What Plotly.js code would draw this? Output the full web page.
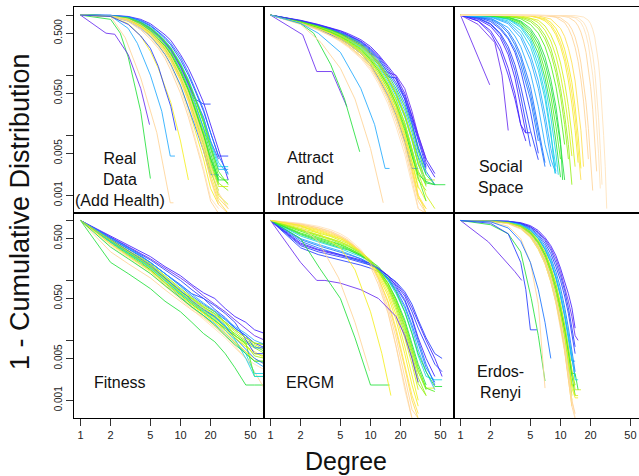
<!DOCTYPE html>
<html>
<head>
<meta charset="utf-8">
<script src="https://cdn.plot.ly/plotly-3.0.1.min.js"></script>
<style>
html,body{margin:0;padding:0;overflow:hidden;background:#fff;}
#chart{width:644px;height:476px;}
</style>
</head>
<body>
<div id="chart"></div>
<script>
// ---------------- DATA (degree, 1 - CDF) ----------------
// Panel 1: Real Data (Add Health)
const realDeg = [1, 2, 3, 4, 5, 6, 7, 8, 10, 12, 14, 17, 20, 24, 30];
const realVals = [
  [1, .99, .95, .85, .72, .58, .47, .38, .22, .13, .075, .035, .015, .006, .0018],
  [1, .99, .93, .8, .66, .52, .41, .32, .18, .1, .055, .025, .011, .0045, .0045],
  [1, .98, .9, .74, .58, .45, .34, .26, .14, .075, .04, .033, .033],
  [1, .98, .9, .75, .6, .46, .35, .26, .14, .07, .035, .013, .005, .0018, .0018],
  [1, .97, .87, .7, .54, .4, .3, .22, .11, .055, .026, .01, .0035, .0015],
  [1, .97, .85, .66, .5, .37, .27, .19, .09, .042, .019, .007, .0025, .0012],
  [1, .98, .88, .72, .57, .44, .33, .25, .13, .065, .032, .013, .006, .0027, .0027],
  [1, .96, .82, .62, .45, .32, .22, .15, .065, .028, .012, .004, .0013, .0007],
  [1, .95, .78, .57, .4, .28, .19, .12, .05, .02, .008, .0025, .0008, .0005],
  [1, .96, .83, .64, .48, .35, .25, .18, .085, .038, .016, .0055, .0018, .0007, .0005],
  [1, .97, .86, .69, .53, .4, .3, .22, .11, .056, .028, .011, .0042, .0019],
  [1, .96, .8, .6, .44, .31, .22, .15, .068, .03, .014, .0055, .0022, .0022],
  [1, .97, .86, .68, .52, .39, .29, .21, .1, .05, .024, .009, .0032, .0014, .0014],
  [1, .96, .84, .65, .49, .36, .26, .18, .085, .04, .018, .0065, .0022, .0009, .0006],
  [1, .98, .89, .73, .58, .45, .35, .27, .15, .08, .042, .018, .0075, .003, .003],
  [1, .96, .8, .6, .43, .3, .21, .14, .06, .024, .009, .0028, .0009, .0006],
  [1, .98, .91, .77, .62, .48, .37, .28, .15, .08, .04, .016, .006, .0021, .0016],
  [1, .98, .91, .76, .6, .46, .35, .27, .14, .07, .04, .02, .008, .004],
  [1, .98, .89, .72, .56, .43, .32, .24, .12, .06, .029, .011, .004, .0016, .0012],
  [1, .97, .88, .7, .55, .41, .31, .23, .12, .058, .027, .01, .004, .0017],
  [1, .99, .92, .78, .63, .49, .38, .29, .16, .085, .044, .019, .008, .0035, .0022],
  [1, .97, .85, .67, .51, .38, .28, .2, .095, .045, .021, .008, .0028, .001, .0007],
  [1, .96, .82, .63, .47, .34, .24, .17, .08, .036, .016, .0055, .0019, .0008, .0005],
  [1, .98, .9, .75, .6, .47, .36, .28, .15, .08, .041, .017, .0068, .0025, .0015],
  [1, .99, .94, .82, .68, .54, .43, .34, .2, .11, .06, .027, .011, .0045, .0023],
  [1, .97, .86, .69, .53, .39, .29, .21, .1, .048, .022, .0085, .003, .0011, .0006]
];
const realColors = [1, 2, 2, 6, 7, 8, 4, 10, 12, 12, 6, 3, 9, 11, 5, 13, 7, 0, 8, 6, 5, 9, 11, 7, 3, 12];
const realExtraDeg = [
  [1, 2, 2.5, 3, 4, 5],
  [1, 1.8, 2.2, 3, 4, 4.9],
  [1, 2, 2.8, 4, 5.8, 7.9, 8.5],
  [1, 2, 3, 3.7, 5, 6.5, 7.9, 8.8],
  [1, 2, 3, 4, 5, 6, 8, 10, 12],
  [1, 2, 3, 4, 5, 6, 7, 8, 9]
];
const realExtraVals = [
  [1, .85, .5, .2, .025, .0019],
  [1, .5, .48, .22, .06, .015],
  [1, .95, .42, .09, .011, .00075, .00075],
  [1, .97, .6, .34, .1, .025, .0045, .0045],
  [1, .95, .72, .45, .25, .13, .035, .008, .0018],
  [1, .95, .7, .45, .28, .14, .06, .03, .012]
];
const realExtraColors = [6, 0, 12, 4, 10, 2];

// Panel 2: Attract and Introduce
const attrDeg = [1, 2, 3, 4, 5, 6, 8, 10, 12, 15, 18, 22, 26, 30, 36, 44, 56];
const attrVals = [
  [1, .82, .7, .62, .55, .49, .39, .3, .22, .14, .095, .05, .022, .01, .004, .0023],
  [1, .8, .68, .6, .52, .46, .36, .27, .2, .12, .075, .04, .018, .008, .003],
  [1, .8, .67, .58, .5, .44, .34, .25, .18, .11, .1, .06, .025, .01, .004],
  [1, .78, .65, .55, .47, .4, .3, .21, .15, .085, .05, .022, .009, .004, .0016, .0015],
  [1, .77, .63, .53, .45, .38, .28, .19, .13, .07, .04, .016, .006, .0025, .0015],
  [1, .76, .62, .52, .43, .36, .26, .18, .12, .064, .033, .013, .0045, .0018, .0012],
  [1, .75, .6, .5, .41, .34, .24, .16, .1, .052, .026, .01, .0035, .0013],
  [1, .74, .58, .47, .38, .31, .21, .14, .085, .042, .02, .0075, .0025, .0009, .0006],
  [1, .73, .57, .46, .37, .3, .2, .13, .08, .038, .017, .006, .0018, .0006, .0005],
  [1, .75, .6, .49, .4, .33, .23, .15, .095, .05, .025, .009, .003, .001, .0006],
  [1, .78, .65, .56, .48, .41, .31, .22, .16, .09, .055, .026, .011, .0045, .0022],
  [1, .77, .64, .54, .46, .39, .29, .2, .14, .078, .045, .02, .008, .0032, .0018],
  [1, .79, .66, .57, .49, .42, .32, .23, .16, .094, .09, .04, .016, .006, .0028],
  [1, .76, .62, .51, .42, .35, .25, .17, .11, .058, .03, .012, .0045, .0022, .0017, .0015, .0015],
  [1, .72, .56, .45, .36, .29, .19, .12, .072, .033, .014, .0048, .0015, .0006],
  [1, .74, .59, .48, .4, .33, .23, .15, .09, .045, .022, .008, .0028, .0028],
  [1, .77, .64, .55, .47, .4, .31, .22, .16, .09, .05, .022, .009, .0035, .0018, .0018],
  [1, .76, .61, .51, .42, .35, .25, .17, .11, .06, .03, .011, .0037, .0014, .0008],
  [1, .78, .65, .56, .48, .41, .31, .22, .15, .085, .048, .021, .0085, .0034, .0014],
  [1, .77, .63, .53, .45, .38, .28, .2, .13, .072, .038, .016, .006, .0024, .001, .0006],
  [1, .8, .68, .59, .51, .45, .35, .26, .19, .11, .068, .034, .015, .0065, .0025, .0015],
  [1, .76, .62, .52, .44, .37, .27, .18, .12, .066, .034, .014, .0052, .002, .0008],
  [1, .74, .59, .49, .4, .33, .23, .15, .095, .048, .023, .0085, .0028, .001, .0005],
  [1, .79, .66, .57, .49, .43, .33, .24, .17, .1, .06, .03, .013, .0055, .0022, .0015],
  [1, .73, .57, .46, .38, .31, .21, .14, .085, .043, .02, .0072, .0023, .0008, .0005],
  [1, .81, .69, .61, .54, .47, .37, .28, .21, .13, .085, .045, .02, .009, .0035, .002]
];
const attrColors = [1, 2, 0, 6, 7, 8, 9, 10, 12, 11, 4, 5, 2, 6, 13, 3, 9, 10, 8, 9, 3, 7, 11, 6, 12, 1];
const attrExtraDeg = [
  [1, 2.1, 2.9, 4.1, 5.8],
  [1, 2, 2.7, 4, 5.5, 7.8],
  [1, 2, 3.2, 5, 7, 10, 13.4],
  [1, 2, 3, 5, 8, 11, 14, 15.5]
];
const attrExtraVals = [
  [1, .47, .115, .115, .03],
  [1, .72, .5, .15, .04, .0053],
  [1, .7, .35, .13, .04, .006, .00075],
  [1, .73, .5, .24, .06, .015, .0028, .0028]
];
const attrExtraColors = [0, 6, 12, 4];

// Panel 3: Social Space
const socialDeg = [
  [1, 1.96],
  [1, 1.5, 2.2, 2.6, 3],
  [1, 1.5, 2, 2.5, 3, 3.5, 4, 4.5],
  [1, 1.5, 2, 2.5, 3, 3.5, 4, 4.5, 5],
  [1, 1.5, 2, 2.5, 3, 3.5, 4, 4.5],
  [1, 1.5, 2, 2.5, 3, 3.5, 4, 4.5, 5],
  [1, 1.5, 2, 2.5, 3, 3.5, 4, 5, 6],
  [1, 1.5, 2, 2.5, 3, 3.5, 4, 5, 6],
  [1, 1.5, 2, 2.5, 3, 3.5, 4, 5, 6],
  [1, 2, 2.5, 3, 3.5, 4, 5, 6, 7],
  [1, 2, 2.5, 3, 3.5, 4, 5, 6, 7],
  [1, 2, 3, 3.5, 4, 5, 6, 7, 8],
  [1, 2, 3, 4, 5, 6, 7, 8, 9],
  [1, 2, 3, 4, 5, 6, 7, 8, 9],
  [1, 2, 3, 4, 5, 6, 7, 8, 8.8],
  [1, 2, 3, 4, 5, 6, 7, 8, 9],
  [1, 2, 3, 4, 5, 6, 7, 8, 9, 9.5],
  [1, 2, 3, 4, 5, 6, 7, 8, 9, 10],
  [1, 2, 3, 4, 5, 6, 7, 8, 9, 10, 11],
  [1, 2, 3, 4, 5, 6, 7, 8, 9, 10],
  [1, 2, 3, 4, 5, 6, 7, 8, 9, 10, 10.5],
  [1, 2, 3, 4, 5, 6, 7, 8, 9, 10, 11],
  [1, 2, 4, 5, 6, 7, 8, 9, 10, 11, 12, 13],
  [1, 2, 4, 5, 6, 7, 8, 9, 10, 11, 12],
  [1, 2, 3, 5, 6, 7, 8, 9, 10, 11, 12, 13],
  [1, 2, 4, 6, 7, 8, 9, 10, 11, 12, 13, 14],
  [1, 3, 5, 6, 7, 8, 9, 10, 11, 12, 13, 14, 15],
  [1, 3, 5, 7, 8, 9, 10, 11, 12, 13, 14, 15, 16],
  [1, 3, 5, 7, 8, 9, 10, 11, 12, 13, 14, 15, 16],
  [1, 3, 6, 8, 10, 11, 12, 13, 14, 15, 16, 17],
  [1, 4, 7, 9, 11, 12, 13, 14, 15, 16, 17, 18, 19],
  [1, 4, 8, 10, 12, 13, 14, 15, 16, 17, 18, 19, 20, 21],
  [1, 5, 10, 12, 14, 15, 16, 17, 18, 19, 20, 21, 22, 23],
  [1, 5, 11, 14, 16, 17, 18, 19, 20, 21, 22, 23, 24, 25],
  [1, 6, 12, 15, 17, 18, 19, 20, 21, 22, 23, 24, 25, 26],
  [1, 8, 14, 17, 19, 20, 21, 22, 23, 24, 25, 26, 27, 28, 29]
];
const socialVals = [
  [1, .069],
  [1, .7, .35, .1, .012],
  [1, .8, .55, .3, .13, .05, .015, .008],
  [1, .85, .65, .42, .22, .09, .03, .011, .011],
  [1, .8, .5, .25, .1, .04, .015, .0108],
  [1, .88, .7, .47, .26, .12, .045, .015, .0065],
  [1, .9, .72, .5, .3, .15, .065, .012, .0039],
  [1, .92, .78, .58, .4, .24, .12, .025, .005],
  [1, .95, .82, .62, .42, .27, .15, .04, .008],
  [1, .85, .68, .5, .32, .19, .05, .01, .003],
  [1, .88, .72, .54, .36, .22, .065, .014, .0035],
  [1, .9, .62, .45, .3, .11, .03, .007, .003],
  [1, .93, .72, .42, .18, .06, .016, .004, .0023],
  [1, .94, .76, .48, .22, .08, .022, .006, .0025],
  [1, .96, .85, .62, .36, .15, .05, .012, .0023],
  [1, .95, .8, .55, .3, .12, .04, .011, .003],
  [1, .97, .86, .66, .4, .19, .07, .02, .005, .0022],
  [1, .97, .88, .7, .45, .23, .09, .03, .008, .002],
  [1, .98, .92, .77, .55, .33, .16, .065, .022, .007, .0018],
  [1, .98, .91, .74, .5, .28, .12, .045, .014, .004],
  [1, .99, .93, .8, .6, .38, .2, .085, .03, .008, .0018],
  [1, .99, .96, .87, .7, .5, .3, .15, .065, .023, .007],
  [1, 1, .93, .83, .66, .46, .28, .14, .06, .022, .007, .0015],
  [1, 1, .9, .78, .6, .4, .23, .11, .045, .015, .004],
  [1, 1, .98, .88, .75, .56, .37, .21, .1, .042, .015, .0045],
  [1, 1, .97, .82, .66, .47, .3, .16, .075, .03, .01, .003],
  [1, 1, .96, .9, .8, .65, .47, .3, .17, .08, .033, .012, .0035],
  [1, 1, .98, .87, .76, .6, .43, .27, .15, .075, .03, .01, .0028],
  [1, 1, .97, .84, .7, .52, .35, .21, .11, .05, .02, .0065, .0018],
  [1, 1, .97, .86, .6, .44, .28, .16, .08, .033, .012, .003],
  [1, 1, .98, .92, .75, .6, .44, .29, .17, .085, .037, .013, .004],
  [1, 1, .97, .9, .72, .58, .43, .28, .16, .08, .035, .013, .004, .0012],
  [1, 1, .97, .92, .78, .66, .52, .37, .24, .13, .065, .027, .009, .0025],
  [1, 1, .98, .9, .75, .62, .47, .32, .19, .1, .045, .017, .005, .0013],
  [1, 1, .97, .9, .76, .64, .5, .35, .22, .12, .055, .02, .006, .0015],
  [1, 1, .98, .93, .82, .72, .58, .43, .28, .16, .075, .03, .01, .003, .0006]
];
const socialColors = [0, 0, 1, 1, 1, 2, 2, 2, 3, 3, 3, 4, 4, 4, 5, 5, 5, 6, 6, 7, 6, 7, 8, 8, 9, 9, 10, 10, 11, 11, 12, 12, 12, 13, 13, 13];

// Panel 4: Fitness
const fitDeg = [1, 2, 3, 4, 5, 7, 10, 13, 17, 22, 28, 35, 45, 55, 70];
const fitVals = [
  [1, .55, .38, .3, .25, .17, .12, .085, .062, .05, .034, .025, .02, .015, .013],
  [1, .53, .36, .28, .23, .16, .11, .08, .055, .04, .03, .022, .016, .012, .01],
  [1, .5, .33, .25, .2, .13, .085, .06, .05, .033, .024, .016, .012, .009, .0075],
  [1, .2, .13, .095, .073, .045, .03, .02, .013, .0095, .006, .0035, .0018, .0018, .0018],
  [1, .3, .19, .14, .11, .07, .045, .032, .024, .017, .012, .008, .005, .003, .0015],
  [1, .47, .3, .22, .17, .105, .062, .045, .032, .024, .017, .013, .0095, .008, .0065],
  [1, .45, .28, .21, .16, .1, .06, .042, .03, .022, .016, .012, .009, .0075, .006],
  [1, .48, .31, .23, .175, .11, .066, .048, .035, .026, .019, .014, .01, .0085, .007],
  [1, .42, .26, .19, .15, .09, .052, .036, .026, .019, .013, .009, .006, .0045, .0035],
  [1, .44, .28, .2, .155, .095, .058, .04, .028, .02, .015, .011, .008, .0065, .005],
  [1, .5, .34, .26, .2, .13, .08, .055, .04, .03, .022, .016, .012, .0075, .0075],
  [1, .46, .29, .21, .165, .1, .06, .043, .03, .022, .015, .01, .006, .0028, .0028],
  [1, .4, .25, .18, .14, .085, .05, .035, .025, .018, .013, .009, .0065, .005, .004],
  [1, .45, .29, .22, .17, .11, .065, .05, .036, .028, .02, .015, .011, .009, .0085],
  [1, .52, .35, .27, .22, .15, .1, .07, .05, .038, .028, .02, .01, .006, .006],
  [1, .38, .24, .17, .13, .08, .048, .033, .023, .016, .011, .0075, .005, .004, .0032],
  [1, .43, .27, .2, .15, .092, .056, .04, .029, .021, .016, .012, .009, .0025, .0025],
  [1, .49, .32, .24, .185, .115, .07, .05, .036, .027, .02, .015, .011, .009, .0085],
  [1, .44, .28, .21, .16, .1, .06, .043, .032, .025, .018, .0105, .005, .0025, .0025],
  [1, .47, .31, .24, .19, .12, .075, .052, .038, .03, .02, .012, .0085, .0055, .005],
  [1, .41, .26, .19, .145, .09, .055, .038, .028, .02, .014, .0095, .0065, .0045, .0045],
  [1, .51, .34, .26, .2, .13, .082, .058, .042, .031, .023, .017, .013, .01, .0085],
  [1, .36, .23, .17, .13, .082, .05, .036, .026, .018, .012, .0085, .006, .0045, .0045],
  [1, .48, .31, .23, .18, .11, .068, .046, .033, .025, .017, .011, .007, .005, .004],
  [1, .46, .3, .22, .17, .105, .063, .044, .032, .023, .016, .011, .0078, .006, .0055]
];
const fitColors = [1, 0, 2, 6, 12, 7, 8, 9, 4, 10, 3, 5, 11, 6, 2, 13, 7, 9, 5, 8, 10, 4, 6, 3, 9];

// Panel 5: ERGM
const ergmDeg = [1, 2, 3, 4, 5, 6, 8, 10, 12, 15, 18, 22, 26, 30, 36, 44, 52];
const ergmVals = [
  [1, .4, .32, .28, .26, .24, .21, .19, .16, .12, .09, .06, .035, .02, .01, .005, .0025],
  [1, .35, .27, .24, .22, .2, .18, .16, .14, .11, .085, .055, .03, .016, .008, .004, .003],
  [1, .45, .35, .3, .27, .245, .21, .18, .15, .11, .075, .045, .022, .01, .004, .0018],
  [1, .5, .4, .35, .31, .28, .23, .19, .15, .1, .065, .035, .016, .007, .003, .0015],
  [1, .55, .44, .38, .34, .3, .25, .2, .16, .1, .06, .03, .013, .0055, .0025, .0022, .0022],
  [1, .6, .48, .42, .37, .33, .26, .2, .15, .09, .05, .022, .009, .004, .0018],
  [1, .65, .52, .45, .4, .35, .27, .2, .14, .08, .042, .017, .007, .003, .0015],
  [1, .7, .57, .5, .44, .38, .29, .21, .14, .075, .036, .013, .005, .0019, .0012],
  [1, .75, .62, .54, .47, .41, .3, .21, .14, .07, .032, .011, .004, .0015],
  [1, .8, .68, .58, .5, .43, .3, .2, .12, .055, .022, .006, .0018, .0008],
  [1, .85, .72, .62, .53, .45, .31, .2, .11, .045, .016, .004, .0012, .0006],
  [1, .88, .76, .66, .56, .47, .31, .19, .1, .035, .011, .0025, .0007, .0005],
  [1, .9, .8, .7, .6, .5, .33, .2, .1, .03, .008, .0015, .0005],
  [1, .87, .75, .64, .54, .45, .29, .17, .085, .028, .008, .0018, .0005],
  [1, .72, .58, .5, .44, .39, .3, .22, .16, .09, .045, .018, .007, .003, .0016, .0016],
  [1, .58, .46, .4, .36, .32, .26, .21, .17, .11, .065, .03, .013, .006, .003, .0017, .0017],
  [1, .38, .3, .27, .25, .23, .2, .18, .155, .12, .095, .065, .04, .022, .011, .006, .005],
  [1, .42, .33, .29, .27, .25, .22, .19, .16, .12, .08, .048, .024, .011, .005, .0025],
  [1, .62, .5, .44, .39, .34, .27, .2, .15, .088, .047, .02, .008, .0035, .0016, .0014],
  [1, .78, .65, .56, .49, .42, .3, .21, .13, .062, .027, .008, .0025, .001],
  [1, .68, .55, .48, .42, .37, .28, .21, .15, .08, .04, .015, .0058, .0024, .0012],
  [1, .48, .38, .33, .3, .27, .23, .19, .155, .105, .07, .038, .018, .0085, .0035, .002],
  [1, .83, .7, .6, .52, .44, .3, .19, .11, .042, .014, .0035, .001, .0005]
];
const ergmColors = [1, 2, 3, 4, 5, 6, 7, 8, 9, 10, 11, 12, 13, 12, 9, 6, 2, 1, 7, 10, 8, 3, 11];
const ergmExtraDeg = [
  [1, 2, 2.9, 3.5, 5, 8, 12, 18, 22, 26, 30],
  [1, 2, 3.1, 5, 7, 10, 15.5],
  [1, 2, 3, 4.8, 7, 9.8],
  [1, 2, 3, 5, 7, 10, 13, 16]
];
const ergmExtraVals = [
  [1, .2, .1, .1, .09, .07, .05, .025, .012, .005, .002],
  [1, .5, .16, .05, .011, .0018, .0018],
  [1, .8, .45, .11, .02, .0031],
  [1, .82, .62, .35, .15, .03, .006, .0012]
];
const ergmExtraColors = [0, 6, 12, 10];

// Panel 6: Erdos-Renyi
const erDeg = [1, 2, 3, 4, 5, 6, 7, 8, 9, 10, 11, 12, 13, 14, 15, 16];
const erVals = [
  [1, .99, .97, .92, .82, .68, .52, .38, .26, .16, .1, .06, .035, .016],
  [1, .99, .96, .88, .75, .58, .42, .28, .17, .1, .055, .028, .013, .006],
  [1, .99, .97, .9, .79, .64, .49, .35, .23, .14, .08, .045, .025, .012, .01],
  [1, .99, .95, .85, .69, .5, .33, .2, .11, .055, .026, .012, .005, .0025],
  [1, .98, .93, .8, .62, .42, .26, .14, .07, .032, .014, .006, .0025],
  [1, .98, .92, .78, .58, .38, .22, .11, .05, .02, .008, .003],
  [1, .99, .94, .82, .64, .44, .27, .15, .075, .035, .015, .006, .0025, .0012],
  [1, .98, .93, .8, .6, .4, .24, .13, .062, .027, .011, .0045, .0018, .0018],
  [1, .98, .92, .77, .56, .36, .21, .11, .05, .021, .008, .003, .0012],
  [1, .97, .9, .74, .53, .33, .19, .095, .043, .018, .007, .0025, .001],
  [1, .98, .93, .8, .61, .41, .25, .14, .068, .03, .012, .0045, .0016, .0011, .0011],
  [1, .97, .9, .75, .55, .35, .2, .1, .045, .019, .007, .0025, .0008],
  [1, .97, .88, .72, .52, .33, .19, .095, .042, .017, .0065, .0022, .0008, .0005],
  [1, .98, .92, .78, .59, .39, .23, .12, .055, .023, .009, .003, .001, .0005],
  [1, .99, .95, .84, .67, .47, .3, .17, .09, .042, .018, .0075, .003, .0015, .0015, .0015],
  [1, .98, .92, .79, .61, .42, .26, .14, .07, .033, .015, .0065, .0028, .0028, .0015],
  [1, .98, .94, .84, .68, .5, .33, .2, .11, .055, .025, .011, .0045, .0045],
  [1, .99, .96, .87, .72, .55, .38, .24, .14, .075, .036, .016, .007, .003],
  [1, .98, .94, .82, .65, .45, .29, .16, .085, .04, .018, .0075, .003, .0018],
  [1, .99, .95, .85, .7, .52, .35, .22, .12, .062, .03, .013, .0055, .0022, .0022],
  [1, .97, .9, .76, .57, .37, .22, .11, .05, .021, .008, .0028, .001, .0006],
  [1, .99, .97, .9, .78, .62, .46, .32, .2, .12, .068, .035, .017, .0078],
  [1, .98, .92, .79, .6, .41, .25, .135, .066, .03, .013, .005, .0019, .0012, .0012]
];
const erColors = [1, 2, 0, 3, 4, 5, 6, 7, 8, 9, 10, 11, 12, 13, 9, 6, 4, 3, 8, 5, 12, 2, 9];
const erExtraDeg = [
  [1, 1.9, 3.5, 4.1],
  [1, 2, 3, 4, 5.1, 6, 7],
  [1, 2, 3, 4, 5, 6, 7],
  [1, 2, 3, 4, 4.5, 5, 5.8],
  [1, 2, 3, 4, 5, 6, 7, 8]
];
const erExtraVals = [
  [1, .44, .14, .1],
  [1, .85, .6, .3, .05, .012, .0021],
  [1, .95, .8, .5, .2, .04, .0016],
  [1, .9, .6, .2, .07, .015, .015],
  [1, .95, .75, .45, .2, .07, .02, .005]
];
const erExtraColors = [0, 6, 12, 2, 3];

const panelLabels = ['Real<br>Data<br>(Add Health)', 'Attract<br>and<br>Introduce', 'Social<br>Space',
                     'Fitness', 'ERGM', 'Erdos-<br>Renyi'];
const xTickVals = [1, 2, 5, 10, 20, 50];
const xTickText = ['1', '2', '5', '10', '20', '50'];
const yTickVals = [1, 0.5, 0.1, 0.05, 0.01, 0.005, 0.001];
const yTickText = ['', '0.500', '', '0.050', '', '0.005', '0.001'];

// ---------------- STYLE ----------------
const palette = [
  'rgba(105,45,240,0.85)', 'rgba(65,30,255,0.85)', 'rgba(35,60,255,0.85)', 'rgba(25,115,255,0.85)',
  'rgba(35,170,255,0.85)', 'rgba(25,210,230,0.85)', 'rgba(35,225,60,0.85)', 'rgba(80,240,25,0.85)',
  'rgba(150,240,25,0.85)', 'rgba(210,240,25,0.85)', 'rgba(245,238,35,0.85)', 'rgba(255,222,80,0.85)',
  'rgba(255,212,150,0.85)', 'rgba(255,226,185,0.85)'
];
const W = 644, H = 476;
const colPx = [[73.5, 263.5], [263.5, 453.5], [453.5, 643.5]];
const rowPx = [[7.3, 212.7], [212.7, 417.7]];
const FONT = 'Liberation Sans, Arial, Helvetica, sans-serif';

const traces = [];
function addShared(panel, deg, vals, cols) {
  vals.forEach((v, i) => traces.push({
    type: 'scatter', mode: 'lines', x: deg.slice(0, v.length), y: v,
    xaxis: 'x' + panel, yaxis: 'y' + panel,
    line: {color: palette[cols[i]], width: 1}, hoverinfo: 'skip', showlegend: false
  }));
}
function addOwn(panel, degs, vals, cols) {
  vals.forEach((v, i) => traces.push({
    type: 'scatter', mode: 'lines', x: degs[i], y: v,
    xaxis: 'x' + panel, yaxis: 'y' + panel,
    line: {color: palette[cols[i]], width: 1}, hoverinfo: 'skip', showlegend: false
  }));
}
addShared(1, realDeg, realVals, realColors);
addOwn(1, realExtraDeg, realExtraVals, realExtraColors);
addShared(2, attrDeg, attrVals, attrColors);
addOwn(2, attrExtraDeg, attrExtraVals, attrExtraColors);
addOwn(3, socialDeg, socialVals, socialColors);
addShared(4, fitDeg, fitVals, fitColors);
addShared(5, ergmDeg, ergmVals, ergmColors);
addOwn(5, ergmExtraDeg, ergmExtraVals, ergmExtraColors);
addShared(6, erDeg, erVals, erColors);
addOwn(6, erExtraDeg, erExtraVals, erExtraColors);

const layout = {
  width: W, height: H, margin: {l: 0, r: 0, t: 0, b: 0},
  paper_bgcolor: '#fff', plot_bgcolor: '#fff', showlegend: false,
  font: {family: FONT, color: '#000'},
  annotations: []
};
const labelPos = [[120, 179], [310, 178], [500, 177], [120, 382], [310, 382], [500, 382]];
for (let i = 0; i < 6; i++) {
  const row = i < 3 ? 0 : 1, col = i % 3, n = i + 1;
  layout['xaxis' + (n === 1 ? '' : n)] = {
    type: 'log', range: [-0.07, 1.83],
    domain: [colPx[col][0] / W, colPx[col][1] / W], anchor: 'y' + n,
    showline: true, mirror: true, linecolor: '#000', linewidth: 1,
    showgrid: false, zeroline: false,
    ticks: row === 1 ? 'outside' : '', ticklen: 7, tickwidth: 1, tickcolor: '#333',
    showticklabels: row === 1, tickmode: 'array', tickvals: xTickVals, ticktext: xTickText,
    tickfont: {family: FONT, size: 11, color: '#222'}
  };
  layout['yaxis' + (n === 1 ? '' : n)] = {
    type: 'log', range: [-3.29, 0.13],
    domain: [1 - rowPx[row][1] / H, 1 - rowPx[row][0] / H], anchor: 'x' + n,
    showline: true, mirror: true, linecolor: '#000', linewidth: 1,
    showgrid: false, zeroline: false,
    ticks: col === 0 ? 'outside' : '', ticklen: 7, tickwidth: 1, tickcolor: '#333',
    showticklabels: col === 0, tickmode: 'array', tickvals: yTickVals, ticktext: yTickText,
    tickangle: -90, tickfont: {family: FONT, size: 10, color: '#222'}
  };
  layout.annotations.push({
    xref: 'paper', yref: 'paper', x: labelPos[i][0] / W, y: 1 - labelPos[i][1] / H,
    xanchor: 'center', yanchor: 'middle', showarrow: false, align: 'center',
    text: panelLabels[i], font: {family: FONT, size: 16, color: '#111'}
  });
}
layout.annotations.push({
  xref: 'paper', yref: 'paper', x: 20 / W, y: 1 - 212 / H, xanchor: 'center', yanchor: 'middle',
  showarrow: false, textangle: -90, text: '1 - Cumulative Distribution',
  font: {family: FONT, size: 27, color: '#111'}
});
layout.annotations.push({
  xref: 'paper', yref: 'paper', x: 346 / W, y: 1 - 461 / H, xanchor: 'center', yanchor: 'middle',
  showarrow: false, text: 'Degree', font: {family: FONT, size: 25, color: '#111'}
});

Plotly.newPlot('chart', traces, layout, {staticPlot: true, displayModeBar: false});
</script>
</body>
</html>
